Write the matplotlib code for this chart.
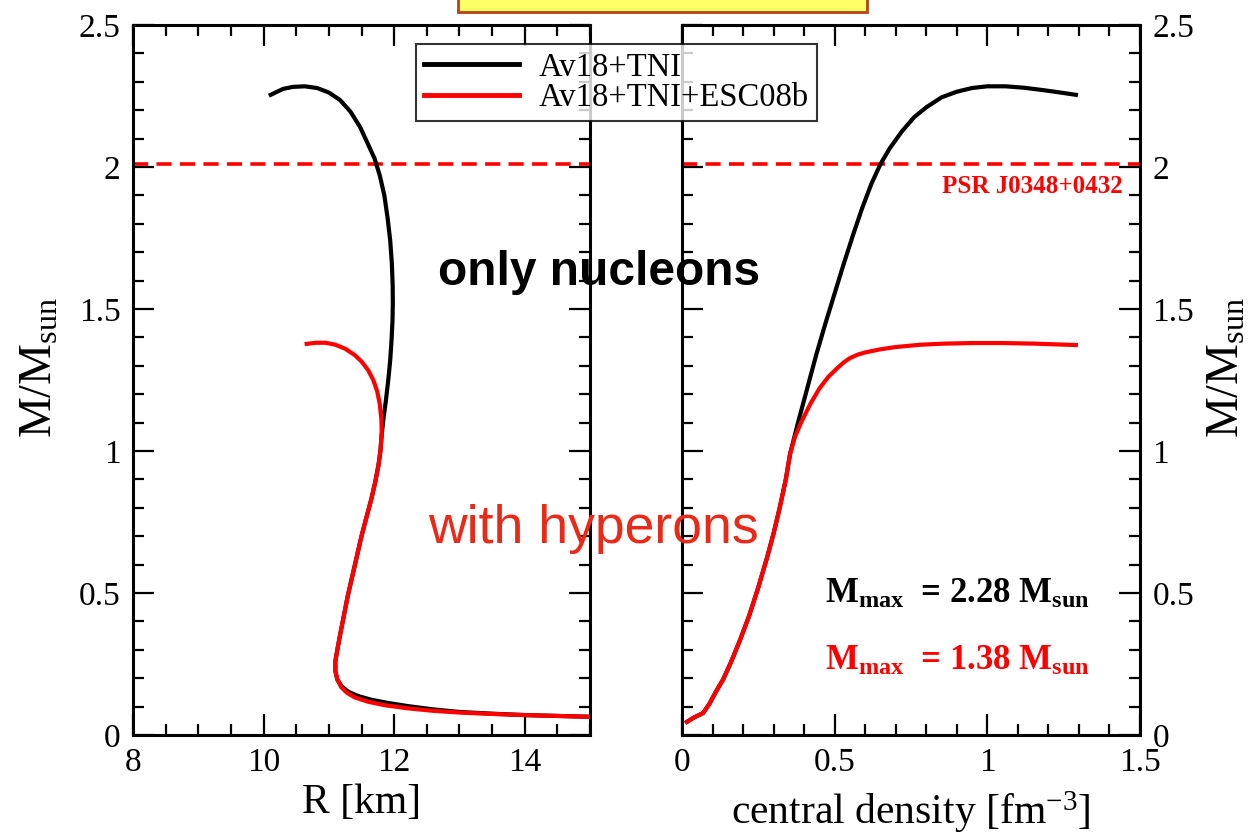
import matplotlib
matplotlib.use("Agg")
import matplotlib.pyplot as plt
from matplotlib.patches import Rectangle
from matplotlib.ticker import MultipleLocator

plt.rcParams['font.family'] = ['Liberation Serif', 'DejaVu Serif']
plt.rcParams['mathtext.fontset'] = 'custom'
plt.rcParams['mathtext.rm'] = 'Liberation Serif'
plt.rcParams['mathtext.it'] = 'Liberation Serif:italic'
plt.rcParams['mathtext.bf'] = 'Liberation Serif:bold'

# ---- data: mass-radius ----
R_nuc = [10.11, 10.3, 10.45, 10.63, 10.82, 11.0, 11.17, 11.33, 11.48, 11.6, 11.7,
         11.78, 11.85, 11.9, 11.94, 11.965, 11.978, 11.98, 11.975, 11.96, 11.94,
         11.91, 11.875, 11.84, 11.81, 11.79, 11.76, 11.71, 11.65, 11.58, 11.5,
         11.43, 11.36, 11.29, 11.23, 11.17, 11.13, 11.1, 11.1, 11.13, 11.2, 11.3,
         11.45, 11.65, 11.9, 12.2, 12.6, 13.0, 13.5, 14.0, 14.5, 15.0]
M_nuc = [2.254, 2.275, 2.282, 2.284, 2.278, 2.262, 2.236, 2.195, 2.14, 2.08, 2.03,
         1.97, 1.90, 1.82, 1.74, 1.66, 1.58, 1.52, 1.46, 1.39, 1.32,
         1.25, 1.18, 1.12, 1.06, 1.0, 0.95, 0.89, 0.83, 0.77, 0.70,
         0.63, 0.56, 0.49, 0.42, 0.35, 0.30, 0.26, 0.225, 0.195, 0.17, 0.152,
         0.137, 0.124, 0.113, 0.102, 0.090, 0.081, 0.075, 0.070, 0.067, 0.064]

R_hyp = [10.66, 10.8, 10.95, 11.1, 11.25, 11.4, 11.5, 11.6, 11.68, 11.74, 11.78,
         11.805, 11.81, 11.79, 11.76, 11.71, 11.65, 11.58, 11.5, 11.43, 11.36,
         11.29, 11.23, 11.17, 11.13, 11.1, 11.1, 11.13, 11.19, 11.28, 11.4, 11.6,
         11.85, 12.2, 12.6, 13.0, 13.5, 14.0, 14.5, 15.0]
M_hyp = [1.377, 1.381, 1.381, 1.374, 1.36, 1.337, 1.315, 1.285, 1.25, 1.21, 1.165,
         1.11, 1.06, 1.0, 0.95, 0.89, 0.83, 0.77, 0.70, 0.63, 0.56,
         0.49, 0.42, 0.35, 0.30, 0.26, 0.225, 0.195, 0.168, 0.148, 0.132, 0.117,
         0.105, 0.094, 0.085, 0.079, 0.074, 0.070, 0.067, 0.064]

# ---- data: mass vs central density ----
rho_nuc = [0.016, 0.04, 0.069, 0.09, 0.11, 0.134, 0.16, 0.19, 0.22, 0.25, 0.28,
           0.30, 0.32, 0.34, 0.354, 0.38, 0.41, 0.44, 0.47, 0.50, 0.53, 0.56,
           0.59, 0.62, 0.65, 0.68, 0.72, 0.76, 0.80, 0.85, 0.90, 0.95, 1.0,
           1.06, 1.12, 1.18, 1.24, 1.29]
Mrho_nuc = [0.046, 0.062, 0.077, 0.11, 0.15, 0.194, 0.255, 0.334, 0.42, 0.52, 0.63,
            0.71, 0.80, 0.90, 0.99, 1.10, 1.22, 1.34, 1.45, 1.555, 1.66, 1.76,
            1.855, 1.94, 2.01, 2.065, 2.125, 2.175, 2.21, 2.245, 2.265, 2.278, 2.284,
            2.284, 2.279, 2.271, 2.262, 2.254]

rho_hyp = [0.016, 0.04, 0.069, 0.09, 0.11, 0.134, 0.16, 0.19, 0.22, 0.25, 0.28,
           0.30, 0.32, 0.34, 0.354, 0.37, 0.39, 0.42, 0.45, 0.48, 0.51, 0.53,
           0.55, 0.575, 0.60, 0.65, 0.70, 0.78, 0.86, 0.95, 1.05, 1.15, 1.29]
Mrho_hyp = [0.046, 0.062, 0.077, 0.11, 0.15, 0.194, 0.255, 0.334, 0.42, 0.52, 0.63,
            0.71, 0.80, 0.90, 0.99, 1.05, 1.10, 1.165, 1.22, 1.262, 1.293, 1.312,
            1.327, 1.339, 1.347, 1.358, 1.366, 1.374, 1.378, 1.38, 1.38, 1.378, 1.373]

M_psr = 2.01
labels = ['Av18+TNI', 'Av18+TNI+ESC08b']
colors = ['black', 'red']

fig = plt.figure(figsize=(12.5, 8.35), dpi=100)
axL = fig.add_axes([0.1064, 0.1198, 0.3656, 0.8503])
axR = fig.add_axes([0.5456, 0.1198, 0.3664, 0.8503])

lw = 3.0
for ax in (axL, axR):
    for sp in ax.spines.values():
        sp.set_linewidth(2.2)
    ax.tick_params(which='both', direction='in', top=True, bottom=True,
                   left=True, right=True, width=1.6, labelsize=24, pad=9)
    ax.tick_params(which='major', length=15)
    ax.tick_params(which='minor', length=8)
    ax.set_ylim(0, 2.5)
    ax.yaxis.set_major_locator(MultipleLocator(0.5))
    ax.yaxis.set_minor_locator(MultipleLocator(0.1))
    ax.axhline(M_psr, color='red', lw=2.6, dashes=(4.2, 2.3), zorder=1)

# left panel
l1, = axL.plot(R_nuc, M_nuc, color=colors[0], lw=lw, zorder=2,
               solid_joinstyle='round')
l2, = axL.plot(R_hyp, M_hyp, color=colors[1], lw=lw, zorder=3,
               solid_joinstyle='round')
axL.set_xlim(8, 15)
axL.xaxis.set_major_locator(MultipleLocator(2))
axL.xaxis.set_minor_locator(MultipleLocator(0.5))
axL.set_xticks([8, 10, 12, 14])
axL.set_xlabel('R [km]', fontsize=30, labelpad=4)
axL.set_yticks([0, 0.5, 1, 1.5, 2, 2.5])
axL.set_yticklabels(['0', '0.5', '1', '1.5', '2', '2.5'])

# right panel
axR.plot(rho_nuc, Mrho_nuc, color=colors[0], lw=lw, zorder=2,
         solid_joinstyle='round')
axR.plot(rho_hyp, Mrho_hyp, color=colors[1], lw=lw, zorder=3,
         solid_joinstyle='round')
axR.set_xlim(0, 1.5)
axR.xaxis.set_major_locator(MultipleLocator(0.5))
axR.xaxis.set_minor_locator(MultipleLocator(0.1))
axR.set_xticks([0, 0.5, 1, 1.5])
axR.set_xticklabels(['0', '0.5', '1', '1.5'])
axR.tick_params(which='both', labelleft=False, labelright=True)
axR.set_yticks([0, 0.5, 1, 1.5, 2, 2.5])
axR.set_yticklabels(['0', '0.5', '1', '1.5', '2', '2.5'])
axR.set_xlabel('central density [fm$^{-3}$]', fontsize=30, labelpad=8)

axR.text(1.444, 1.93, 'PSR J0348+0432', color='red', fontsize=18,
         fontweight='bold', ha='right', va='center')
axR.text(0.468, 0.465, r'M$_{\mathbf{max}}$  = 2.28 M$_{\mathbf{sun}}$',
         color='black', fontsize=25, fontweight='bold', ha='left', va='baseline')
axR.text(0.468, 0.229, r'M$_{\mathbf{max}}$  = 1.38 M$_{\mathbf{sun}}$',
         color='red', fontsize=25, fontweight='bold', ha='left', va='baseline')

# y labels
fig.text(0.032, 0.56, r'M/M$_{\rm sun}$', rotation=90, fontsize=33,
         ha='center', va='center')
fig.text(0.982, 0.56, r'M/M$_{\rm sun}$', rotation=90, fontsize=33,
         ha='center', va='center')

# overlay texts
fig.text(0.479, 0.674, 'only nucleons', fontsize=34.5, fontweight='bold',
         family=['Liberation Sans', 'DejaVu Sans'], color='black',
         ha='center', va='center')
fig.text(0.4744, 0.366, 'with hyperons', fontsize=38.5,
         family=['Liberation Sans', 'DejaVu Sans'], color='#ea2a18',
         ha='center', va='center')

# yellow box at top
fig.patches.append(Rectangle((458 / 1250, 1 - 12 / 835), (867 - 458) / 1250, 0.05,
                             transform=fig.transFigure, facecolor='#ffff66',
                             edgecolor='#b8401a', lw=2, zorder=5))

leg = fig.legend([l1, l2], labels, loc='upper left',
                 bbox_to_anchor=(416 / 1250, 1 - 44 / 835), fontsize=23.5,
                 frameon=True, fancybox=False, edgecolor='black',
                 handlelength=2.9, handletextpad=0.6, labelspacing=0.0,
                 borderpad=0.25, borderaxespad=0)
leg.get_frame().set_linewidth(1.5)
for ln in leg.get_lines():
    ln.set_linewidth(3.5)

fig.savefig('out.png', dpi=100)
